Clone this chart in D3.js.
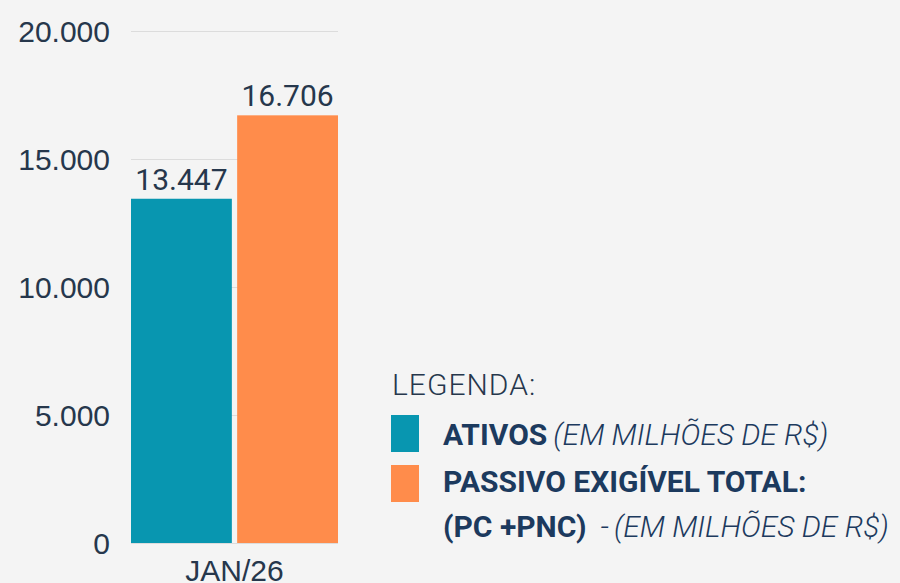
<!DOCTYPE html>
<html>
<head>
<meta charset="utf-8">
<script src="https://cdn.jsdelivr.net/npm/d3@7"></script>
<style>
  body { margin: 0; background: #f4f4f4; }
  svg { display: block; font-family: Roboto, sans-serif; }
</style>
</head>
<body>
<svg id="chart" width="900" height="583"></svg>
<script>
// dados
const categories = ["JAN/26"]
const seriesNames = ["ATIVOS", "PASSIVO EXIGÍVEL TOTAL"]
const ativos = [13447]
const passivo = [16706]
const yTicks = [0, 5000, 10000, 15000, 20000]

const colors = ["#0896b0", "#ff8c4b"]
const textColor = "#26374c"
const navy = "#1c3a5e"

let svg = d3.select("#chart")
let fmt = d3.formatLocale({decimal: ",", thousands: ".", grouping: [3], currency: ["R$", ""]}).format(",")

let margin = {left: 131, top: 31, right: 562, bottom: 40}
let w = 900 - margin.left - margin.right
let h = 583 - margin.top - margin.bottom

let x0 = d3.scaleBand().domain(categories).range([0, w]).padding(0)
let x1 = d3.scaleBand().domain(seriesNames).range([0, x0.bandwidth()]).paddingInner(0.05)
let y = d3.scaleLinear().domain([0, 20000]).range([h, 0])

let g = svg.append("g")
  .attr("transform", "translate(" + margin.left + "," + margin.top + ")")

// grid
g.append("g")
  .call(d3.axisLeft(y).tickValues(yTicks).tickSize(-w).tickFormat(""))
  .call(s => s.select(".domain").remove())
  .call(s => s.selectAll("line").attr("stroke", "#dcdcdc").attr("stroke-width", 1.2))

// y axis labels
g.append("g")
  .call(d3.axisLeft(y).tickValues(yTicks).tickSize(0).tickPadding(21).tickFormat(fmt))
  .call(s => s.select(".domain").remove())
  .call(s => s.selectAll("text")
    .attr("fill", textColor)
    .attr("font-size", 30)
    .attr("dy", "0.35em"))

let rows = categories.map((c, i) => ({cat: c, values: [ativos[i], passivo[i]]}))

let groups = g.selectAll(".grp")
  .data(rows)
  .enter()
  .append("g")
  .attr("transform", d => "translate(" + x0(d.cat) + ",0)")

groups.selectAll("rect")
  .data(d => d.values.map((v, j) => ({name: seriesNames[j], v: v, j: j})))
  .enter()
  .append("rect")
  .attr("x", d => x1(d.name))
  .attr("y", d => y(d.v))
  .attr("width", x1.bandwidth())
  .attr("height", d => h - y(d.v))
  .attr("fill", d => colors[d.j])

groups.selectAll(".val")
  .data(d => d.values.map((v, j) => ({name: seriesNames[j], v: v})))
  .enter()
  .append("text")
  .attr("x", d => x1(d.name) + x1.bandwidth() / 2)
  .attr("y", d => y(d.v) - 9)
  .attr("text-anchor", "middle")
  .attr("fill", textColor)
  .attr("font-size", 30)
  .text(d => fmt(d.v))

// x axis
g.append("g")
  .attr("transform", "translate(0," + h + ")")
  .call(d3.axisBottom(x0).tickSize(0).tickPadding(17))
  .call(s => s.select(".domain").remove())
  .call(s => s.selectAll("text")
    .attr("fill", textColor)
    .attr("font-size", 30)
    .attr("dy", "0.71em"))

// legenda
let leg = svg.append("g").attr("transform", "translate(391,0)")

leg.append("text")
  .attr("x", 1)
  .attr("y", 395)
  .attr("font-size", 30)
  .attr("font-weight", 300)
  .attr("letter-spacing", 1)
  .attr("fill", textColor)
  .text("LEGENDA:")

leg.selectAll("rect")
  .data(seriesNames)
  .enter()
  .append("rect")
  .attr("x", 0)
  .attr("y", (d, i) => 415 + i * 50)
  .attr("width", 28)
  .attr("height", 37)
  .attr("fill", (d, i) => colors[i])

let t1 = leg.append("text").attr("x", 52).attr("y", 445).attr("font-size", 30).attr("fill", navy)
t1.append("tspan").attr("font-weight", 700).text("ATIVOS")
t1.append("tspan").attr("font-style", "italic").attr("font-weight", 300).attr("dx", 6).text("(EM MILHÕES DE R$)")

leg.append("text").attr("x", 52).attr("y", 492).attr("font-size", 30)
  .attr("fill", navy).attr("font-weight", 700)
  .text("PASSIVO EXIGÍVEL TOTAL:")

let t3 = leg.append("text").attr("x", 52).attr("y", 537).attr("font-size", 30).attr("fill", navy)
t3.append("tspan").attr("font-weight", 700).text("(PC +PNC)")
t3.append("tspan").attr("font-style", "italic").attr("font-weight", 300).attr("dx", 14).text("-")
t3.append("tspan").attr("font-style", "italic").attr("font-weight", 300).attr("dx", 5).text("(EM MILHÕES DE R$)")
</script>
</body>
</html>
